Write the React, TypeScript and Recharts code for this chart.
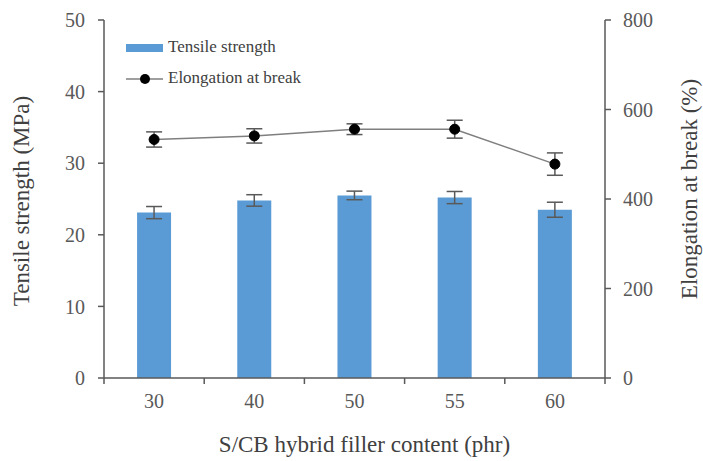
import React from 'react'
import { ComposedChart, Bar, Line, XAxis, YAxis, ErrorBar, Legend } from 'recharts'

const contents = ['30', '40', '50', '55', '60']
const tensile = [23.1, 24.8, 25.5, 25.2, 23.5]
const tensileErr = [0.85, 0.8, 0.6, 0.85, 1.05]
const elongation = [533, 541, 556, 556, 478]
const elongationErr = [17, 16, 12, 20, 25]

const leftTicks = [0, 10, 20, 30, 40, 50]
const rightTicks = [0, 200, 400, 600, 800]

const W = 703
const H = 461
const LEFT_W = 104
const RIGHT_W = 98
const X_H = 83
const FONT = '"Liberation Serif", "Times New Roman", serif'
const AXIS = '#595959'
const TITLE = '#404040'
const BLUE = '#5B9BD5'

const data = contents.map((c, i) => ({
  content: c,
  tensile: tensile[i],
  tensileErr: tensileErr[i],
  elongation: elongation[i],
  elongationErr: elongationErr[i],
}))

const band = (W - LEFT_W - RIGHT_W) / contents.length

// category label in the middle, small tick marks at the category boundaries
function XTick(props: any) {
  const { x, y, payload, index } = props
  const last = index === contents.length - 1
  return (
    <g>
      <line x1={x - band / 2} x2={x - band / 2} y1={y - 8} y2={y - 2} stroke={AXIS} strokeWidth={1.5} />
      {last && <line x1={x + band / 2} x2={x + band / 2} y1={y - 8} y2={y - 2} stroke={AXIS} strokeWidth={1.5} />}
      <text x={x} y={y + 17} textAnchor="middle" dominantBaseline="middle" fill={AXIS} fontSize={20} fontFamily={FONT}>
        {payload.value}
      </text>
    </g>
  )
}

// axis titles placed relative to each axis box
function XTitle({ viewBox }: any) {
  const { x, y, width } = viewBox
  return (
    <text x={x + width / 2 + 10} y={y + 69} textAnchor="middle" dominantBaseline="middle" fill={TITLE} fontSize={23} fontFamily={FONT}>
      S/CB hybrid filler  content (phr)
    </text>
  )
}

function LeftTitle({ viewBox }: any) {
  const { x, y, height } = viewBox
  const cx = x + 24
  const cy = y + height / 2 + 2
  return (
    <text x={cx} y={cy} transform={`rotate(-90 ${cx} ${cy})`} textAnchor="middle" dominantBaseline="middle" fill={TITLE} fontSize={23} fontFamily={FONT}>
      Tensile strength (MPa)
    </text>
  )
}

function RightTitle({ viewBox }: any) {
  const { x, y, height } = viewBox
  const cx = x + 87
  const cy = y + height / 2 - 10
  return (
    <text x={cx} y={cy} transform={`rotate(-90 ${cx} ${cy})`} textAnchor="middle" dominantBaseline="middle" fill={TITLE} fontSize={23} fontFamily={FONT}>
      Elongation at break (%)
    </text>
  )
}

function ChartLegend() {
  return (
    <svg width={220} height={60}>
      <rect x={6} y={9} width={37} height={8} fill={BLUE} />
      <text x={48} y={13} dominantBaseline="middle" fontSize={17} fontFamily={FONT} fill={TITLE}>
        Tensile strength
      </text>
      <line x1={6} x2={43} y1={44} y2={44} stroke="#7f7f7f" strokeWidth={1.5} />
      <circle cx={25} cy={44} r={5} fill="#000" />
      <text x={48} y={44} dominantBaseline="middle" fontSize={17} fontFamily={FONT} fill={TITLE}>
        Elongation at break
      </text>
    </svg>
  )
}

export default function App() {
  return (
    <div style={{ position: 'absolute', top: 0, left: 0, width: W, height: H, background: '#fff', fontFamily: FONT }}>
      <ComposedChart
        width={W}
        height={H}
        data={data}
        margin={{ top: 20, right: 0, bottom: 0, left: 0 }}
        barCategoryGap="33%"
      >
        <XAxis
          dataKey="content"
          height={X_H}
          axisLine={{ stroke: AXIS, strokeWidth: 1.5 }}
          tickLine={false}
          tick={<XTick />}
          interval={0}
          label={<XTitle />}
        />
        <YAxis
          yAxisId="ts"
          orientation="left"
          width={LEFT_W}
          domain={[0, 50]}
          ticks={leftTicks}
          tickSize={6}
          tickMargin={13}
          axisLine={{ stroke: AXIS, strokeWidth: 1.5 }}
          tickLine={{ stroke: AXIS, strokeWidth: 1.5 }}
          tick={{ fill: AXIS, fontSize: 20, fontFamily: FONT }}
          label={<LeftTitle />}
        />
        <YAxis
          yAxisId="el"
          orientation="right"
          width={RIGHT_W}
          domain={[0, 800]}
          ticks={rightTicks}
          tickSize={6}
          tickMargin={12}
          axisLine={{ stroke: AXIS, strokeWidth: 1.5 }}
          tickLine={{ stroke: AXIS, strokeWidth: 1.5 }}
          tick={{ fill: AXIS, fontSize: 20, fontFamily: FONT }}
          label={<RightTitle />}
        />
        <Legend
          layout="vertical"
          align="center"
          verticalAlign="middle"
          content={() => <ChartLegend />}
          wrapperStyle={{ left: 120, top: 35, width: 220, height: 60 }}
        />
        <Bar yAxisId="ts" dataKey="tensile" fill={BLUE} isAnimationActive={false}>
          <ErrorBar dataKey="tensileErr" width={8} stroke={AXIS} strokeWidth={1.5} />
        </Bar>
        <Line
          yAxisId="el"
          dataKey="elongation"
          type="linear"
          stroke="#7f7f7f"
          strokeWidth={1.5}
          dot={{ r: 5, fill: '#000', stroke: '#000', strokeWidth: 1 }}
          isAnimationActive={false}
        >
          <ErrorBar dataKey="elongationErr" width={8} stroke={AXIS} strokeWidth={1.5} />
        </Line>
      </ComposedChart>
    </div>
  )
}
